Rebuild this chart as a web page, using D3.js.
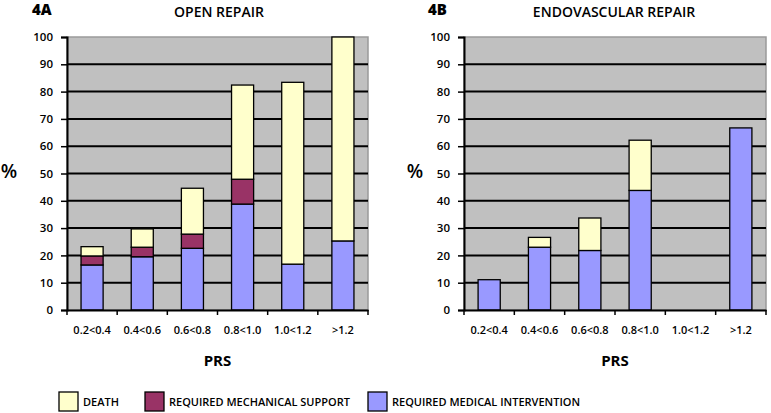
<!DOCTYPE html>
<html><head><meta charset="utf-8">
<script src="https://cdn.jsdelivr.net/npm/d3@7"></script>
<style>body{margin:0;background:#fff}svg{display:block}text{font-family:"Open Sans",sans-serif}</style>
</head><body>
<script>
const categories = ["0.2<0.4","0.4<0.6","0.6<0.8","0.8<1.0","1.0<1.2",">1.2"];
const seriesNames = ["REQUIRED MEDICAL INTERVENTION","REQUIRED MECHANICAL SUPPORT","DEATH"];
const openMedical = [16.5, 19.5, 22.6, 38.8, 16.8, 25.3];
const openMechanical = [3.3, 3.5, 5.2, 9.1, 0, 0];
const openDeath = [3.4, 6.7, 16.8, 34.5, 66.6, 74.7];
const endoMedical = [11.1, 23.0, 21.8, 43.8, 0, 66.7];
const endoMechanical = [0, 0, 0, 0, 0, 0];
const endoDeath = [0, 3.6, 11.9, 18.4, 0, 0];
const yTicks = [0,10,20,30,40,50,60,70,80,90,100];
const legendOrder = ["DEATH","REQUIRED MECHANICAL SUPPORT","REQUIRED MEDICAL INTERVENTION"];

const colors = {"REQUIRED MEDICAL INTERVENTION":"#9999ff","REQUIRED MECHANICAL SUPPORT":"#993366","DEATH":"#ffffcc"};

const W=771,H=413;
const svg=d3.select("body").append("svg").attr("width",W).attr("height",H);

const panels=[
 {label:"4A",title:"OPEN REPAIR",x0:67,x1:368,labelX:32,titleX:219,pctX:9,
  series:[openMedical,openMechanical,openDeath]},
 {label:"4B",title:"ENDOVASCULAR REPAIR",x0:464,x1:766,labelX:428,titleX:614,pctX:415,
  series:[endoMedical,endoMechanical,endoDeath]}
];
const yTop=37,yBot=310;

panels.forEach(p=>{
  const g=svg.append("g");
  const x=d3.scaleBand().domain(categories).range([p.x0,p.x1]).paddingInner(0.56).paddingOuter(0.28);
  const xb=d3.scaleBand().domain(categories).range([p.x0,p.x1]);
  const y=d3.scaleLinear().domain([0,100]).range([yBot,yTop]);
  g.append("rect").attr("x",p.x0).attr("y",yTop).attr("width",p.x1-p.x0).attr("height",yBot-yTop)
    .attr("fill","#c0c0c0").attr("stroke","#9a9a9a").attr("stroke-width",1.5);
  g.selectAll("line.grid").data(yTicks.filter(t=>t>0&&t<100)).join("line")
    .attr("x1",p.x0).attr("x2",p.x1).attr("y1",d=>y(d)).attr("y2",d=>y(d))
    .attr("stroke","#000").attr("stroke-width",2);
  const rows=categories.map((c,i)=>{const o={cat:c};seriesNames.forEach((s,k)=>o[s]=p.series[k][i]);return o;});
  const stack=d3.stack().keys(seriesNames)(rows);
  stack.forEach(layer=>{
    g.selectAll(null).data(layer.filter(d=>d[1]-d[0]>0)).join("rect")
      .attr("x",d=>x(d.data.cat)).attr("width",x.bandwidth())
      .attr("y",d=>y(d[1])).attr("height",d=>y(d[0])-y(d[1]))
      .attr("fill",colors[layer.key]).attr("stroke","#000").attr("stroke-width",1.3);
  });
  const ya=g.append("g").attr("transform",`translate(${p.x0},0)`)
    .call(d3.axisLeft(y).tickValues(yTicks).tickSize(6).tickPadding(8));
  ya.select(".domain").attr("stroke","#000").attr("stroke-width",2);
  ya.selectAll(".tick line").attr("stroke","#000").attr("stroke-width",1.5);
  ya.selectAll(".tick text").attr("font-size",11.5).attr("font-weight",600).attr("fill","#000").style("font-family","Open Sans");
  const xa=g.append("g").attr("transform",`translate(0,${yBot})`)
    .call(d3.axisBottom(xb).tickSize(0).tickPadding(16));
  xa.select(".domain").attr("stroke","#000").attr("stroke-width",2);
  xa.selectAll(".tick text").attr("font-size",11).attr("font-weight",600).attr("fill","#000").style("font-family","Open Sans");
  const bounds=categories.map(c=>xb(c)).concat([p.x1]);
  g.selectAll(null).data(bounds).join("line")
    .attr("x1",d=>d).attr("x2",d=>d).attr("y1",yBot).attr("y2",yBot+5)
    .attr("stroke","#000").attr("stroke-width",1.5);
  g.append("text").attr("x",p.labelX).attr("y",15).attr("font-size",15).attr("font-weight",800).text(p.label);
  g.append("text").attr("x",p.titleX).attr("y",17).attr("text-anchor","middle").attr("font-size",14).attr("font-weight",600).text(p.title);
  g.append("text").attr("x",p.pctX).attr("y",178).attr("text-anchor","middle").attr("font-size",19).attr("font-weight",600).text("%");
  g.append("text").attr("x",(p.x0+p.x1)/2).attr("y",366).attr("text-anchor","middle").attr("font-size",15).attr("font-weight",700).text("PRS");
});

const legX=[59,145,368];
const lg=svg.append("g");
legendOrder.forEach((s,i)=>{
  lg.append("rect").attr("x",legX[i]).attr("y",392).attr("width",19).attr("height",19)
    .attr("fill",colors[s]).attr("stroke","#000").attr("stroke-width",1.3);
  lg.append("text").attr("x",legX[i]+24).attr("y",406).attr("font-size",11).attr("font-weight",600).text(s);
});
</script>
</body></html>
